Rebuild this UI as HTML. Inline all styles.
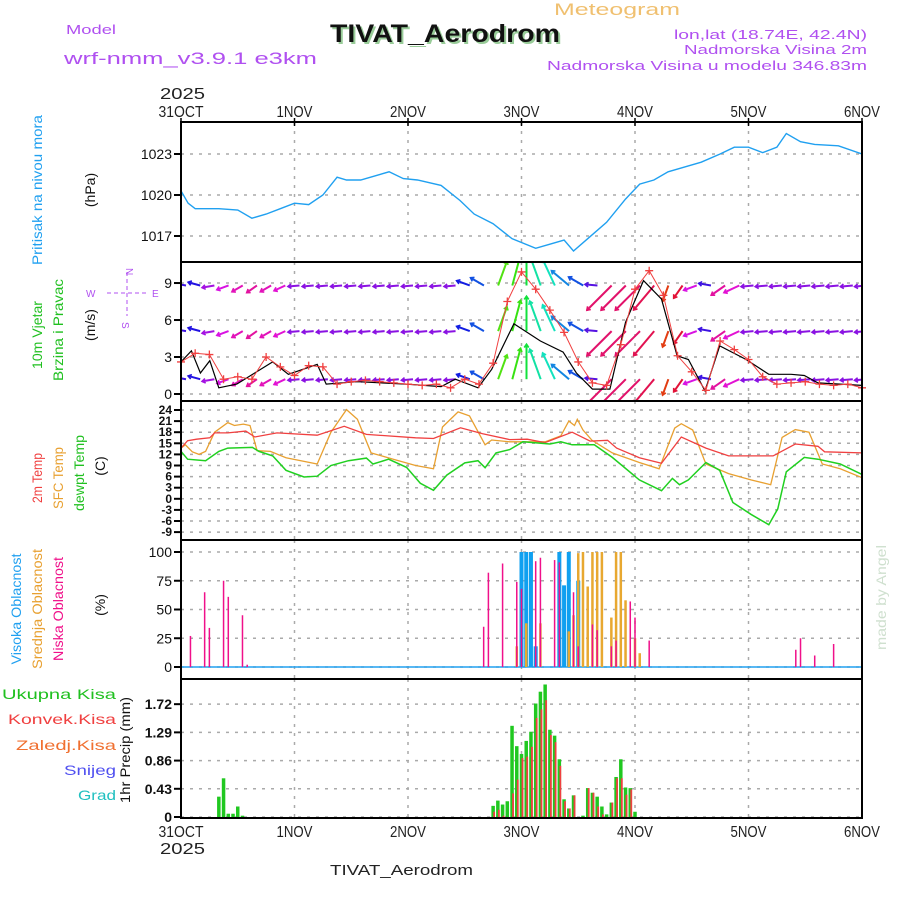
<!DOCTYPE html>
<html><head><meta charset="utf-8"><style>
html,body{margin:0;padding:0;background:#fff}
svg{display:block}
text{font-family:"Liberation Sans",sans-serif}
</style></head><body>
<svg id="c" width="900" height="900" viewBox="0 0 900 900" xmlns="http://www.w3.org/2000/svg">
<rect x="0" y="0" width="900" height="900" fill="#fff"/>
<g lengthAdjust="spacingAndGlyphs">
<text x="617" y="15" text-anchor="middle" font-size="17" fill="#f0c070" textLength="126" lengthAdjust="spacingAndGlyphs">Meteogram</text>
<text x="66" y="34" font-size="13" fill="#b050f0" textLength="50" lengthAdjust="spacingAndGlyphs">Model</text>
<text x="64" y="64" font-size="17" fill="#b050f0" textLength="253" lengthAdjust="spacingAndGlyphs">wrf-nmm_v3.9.1 e3km</text>
<text x="332" y="44" font-size="25" font-weight="bold" fill="#9c9" font-family="Liberation Serif, serif" textLength="230" lengthAdjust="spacingAndGlyphs">TIVAT_Aerodrom</text>
<text x="330" y="42" font-size="25" font-weight="bold" fill="#111" font-family="Liberation Serif, serif" textLength="230" lengthAdjust="spacingAndGlyphs">TIVAT_Aerodrom</text>
<text x="867" y="39" text-anchor="end" font-size="13" fill="#b050f0" textLength="193" lengthAdjust="spacingAndGlyphs">lon,lat (18.74E, 42.4N)</text>
<text x="867" y="54" text-anchor="end" font-size="13" fill="#b050f0" textLength="183" lengthAdjust="spacingAndGlyphs">Nadmorska Visina 2m</text>
<text x="867" y="70" text-anchor="end" font-size="13" fill="#b050f0" textLength="320" lengthAdjust="spacingAndGlyphs">Nadmorska Visina u modelu 346.83m</text>
<text x="160" y="99" font-size="16" fill="#222" textLength="45" lengthAdjust="spacingAndGlyphs">2025</text>
<text x="160" y="854" font-size="16" fill="#222" textLength="45" lengthAdjust="spacingAndGlyphs">2025</text>
<text x="330" y="875" font-size="15" fill="#222" font-family="Liberation Serif, serif" textLength="143" lengthAdjust="spacingAndGlyphs">TIVAT_Aerodrom</text>
<text transform="translate(886,650) rotate(-90)" font-size="14" fill="#cfe0cf" font-family="Liberation Serif, serif" textLength="105" lengthAdjust="spacingAndGlyphs">made by Angel</text>
</g>
<g font-size="14">
<text transform="translate(42,190) rotate(-90)" text-anchor="middle" fill="#20a0f0" textLength="150" lengthAdjust="spacingAndGlyphs">Pritisak na nivou mora</text>
<text transform="translate(95,190) rotate(-90)" text-anchor="middle" fill="#111">(hPa)</text>
<text transform="translate(42,335) rotate(-90)" text-anchor="middle" fill="#20c020" textLength="68" lengthAdjust="spacingAndGlyphs">10m Vjetar</text>
<text transform="translate(63,330) rotate(-90)" text-anchor="middle" fill="#20c020" textLength="102" lengthAdjust="spacingAndGlyphs">Brzina i Pravac</text>
<text transform="translate(95,325) rotate(-90)" text-anchor="middle" fill="#111">(m/s)</text>
<text transform="translate(42,478) rotate(-90)" text-anchor="middle" fill="#f04040" textLength="50" lengthAdjust="spacingAndGlyphs">2m Temp</text>
<text transform="translate(63,478) rotate(-90)" text-anchor="middle" fill="#e8a030" textLength="62" lengthAdjust="spacingAndGlyphs">SFC Temp</text>
<text transform="translate(84,473) rotate(-90)" text-anchor="middle" fill="#20c020" textLength="76" lengthAdjust="spacingAndGlyphs">dewpt Temp</text>
<text transform="translate(105,466) rotate(-90)" text-anchor="middle" fill="#111">(C)</text>
<text transform="translate(21,609) rotate(-90)" text-anchor="middle" fill="#20a0f0" textLength="111" lengthAdjust="spacingAndGlyphs">Visoka Oblacnost</text>
<text transform="translate(42,609) rotate(-90)" text-anchor="middle" fill="#e8a030" textLength="120" lengthAdjust="spacingAndGlyphs">Srednja Oblacnost</text>
<text transform="translate(63,609) rotate(-90)" text-anchor="middle" fill="#f0108a" textLength="104" lengthAdjust="spacingAndGlyphs">Niska Oblacnost</text>
<text transform="translate(105,605) rotate(-90)" text-anchor="middle" fill="#111">(%)</text>
<text transform="translate(130,750) rotate(-90)" text-anchor="middle" fill="#111" textLength="106" lengthAdjust="spacingAndGlyphs">1hr Precip (mm)</text>
<text x="116" y="699" text-anchor="end" fill="#20c020" textLength="114" lengthAdjust="spacingAndGlyphs">Ukupna Kisa</text>
<text x="116" y="724" text-anchor="end" fill="#f04040" textLength="108" lengthAdjust="spacingAndGlyphs">Konvek.Kisa</text>
<text x="116" y="750" text-anchor="end" fill="#f07030" textLength="100" lengthAdjust="spacingAndGlyphs">Zaledj.Kisa</text>
<text x="116" y="775" text-anchor="end" fill="#5050f0" textLength="52" lengthAdjust="spacingAndGlyphs">Snijeg</text>
<text x="116" y="800" text-anchor="end" fill="#20c0c0" textLength="38" lengthAdjust="spacingAndGlyphs">Grad</text>
</g>
<g stroke="#b050f0" fill="#b050f0" font-size="10">
<line x1="107" y1="293" x2="147" y2="293" stroke-dasharray="4,3"/>
<line x1="127" y1="272" x2="127" y2="316" stroke-dasharray="4,3"/>
<text x="86" y="297" stroke="none">W</text>
<text x="152" y="297" stroke="none">E</text>
<text transform="translate(126,268) rotate(90)" stroke="none">N</text>
<text transform="translate(122,322) rotate(90)" stroke="none">S</text>
</g>
<g id="plot"></g>
</svg>
<script>
// ---- data ----
const dayLabels = ["31OCT","1NOV","2NOV","3NOV","4NOV","5NOV","6NOV"];
const presHours = [0,1.5,3,8,12,15,18,21,24,27,30,33,35,38,44,47,50,55,59,62,66,70,75,78,81,83,86,90,94,97,100,103,107,110,114,117,120,123,126,128,131,134,139,144];
const presVals = [1020.3,1019.4,1019.0,1019.0,1018.9,1018.3,1018.6,1019.0,1019.4,1019.3,1020.0,1021.3,1021.1,1021.1,1021.7,1021.2,1021.1,1020.7,1019.6,1018.6,1017.9,1016.8,1016.1,1016.4,1016.7,1015.9,1016.8,1018.0,1019.7,1020.8,1021.1,1021.7,1022.1,1022.4,1023.0,1023.5,1023.5,1023.1,1023.5,1024.5,1023.9,1023.7,1023.6,1023.0];
const presTicks = [1017,1020,1023];
const windHours = [0,2.2,4.1,6.1,8,11.8,19.4,22.7,28.8,30.7,37.3,47.7,55,58,62.8,65.7,70.4,76,80.8,83.6,87,90.7,94,97.8,101.6,104.9,107.3,110.8,113.9,119.5,124.3,129,131.8,134.7,144];
const windVals = [2.6,3.5,1.7,2.7,0.5,0.8,2.6,1.6,2.4,0.8,1.0,0.8,0.6,1.2,0.5,2.0,5.7,4.3,3.4,1.7,0.4,0.4,5.8,9.2,7.7,3.1,2.8,0.25,3.9,2.8,1.6,1.6,1.5,0.9,0.7];
const gustVals = [2.6,3.3,3.2,1.2,1.4,1.2,3.0,2.2,1.5,2.3,2.2,0.8,1.0,1.1,1.0,0.9,0.8,0.7,0.8,0.5,1.2,0.8,2.5,7.5,9.9,8.5,6.8,5.0,2.6,0.9,0.7,4.0,8.5,10.0,8.0,3.1,1.8,0.3,4.3,3.6,2.8,1.4,0.8,0.9,1.0,0.8,0.7,0.8,0.5];
const windDir = [170,165,190,200,210,215,210,205,185,185,185,185,185,185,185,185,185,185,185,185,160,150,70,75,90,110,115,140,150,175,225,225,225,230,250,235,200,170,215,205,185,185,185,185,185,185,185,185,185];
const windArrowSpeed = [1.5,1.5,1.5,1.5,1.5,1.5,1.5,1.5,1.2,1.2,1.2,1.2,1.2,1.2,1.2,1.2,1.2,1.2,1.2,1.2,2,2.5,6,8,9,8,7,5,3,1.5,9,9,9,8,3,2.5,2,1.5,3,3,1.5,1.5,1.5,1.5,1.5,1.5,1.5,1.5,1.5];
const windRows = [8.8,5.1,1.2];
const windTicks = [0,3,6,9];
const t2Hours = [0,1.4,3.3,6.1,7.1,9.9,13.7,15.6,20.3,28.8,34.5,39.2,49.6,53.4,59.1,63.8,69.5,73.2,77,82.7,86.5,90.2,92.1,96.9,101.6,105.8,111,115.8,125.2,129.9,134.7,136.1,144];
const t2Vals = [13.7,15.7,16.1,16.5,17.8,17.8,18.3,16.7,17.8,17.2,19.6,17.4,16.5,16.3,19.2,17.6,16,16.1,15.2,18,15.6,15.8,13.7,11.1,9.6,16.7,13.7,11.6,11.6,14.8,14.2,12.7,12.4];
const sfcHours = [0,0.9,2.4,3.8,5.2,7.1,9.9,11.3,13.2,14.6,16.1,18.9,22.2,28.8,31.7,35,37.3,40.2,44.9,49.6,53.4,55.3,58.6,61,64.3,65.7,69.5,77,80.3,82,83.2,83.8,85,86.9,91.2,96.9,101.1,104.4,105.8,108.2,111,115.8,120.5,124.7,127.1,129.9,132.8,135.6,139.4,144];
const sfcVals = [13.7,14.6,12.7,12,12.8,18,20.6,19.8,20.2,19.8,13,12.8,11.1,9.4,18,24.1,21.5,12.4,10.7,9,8.1,19.4,23.5,22.4,14.6,15.9,15.4,15.4,17,21,19.8,21.5,18.6,15.8,12.4,9.8,8.1,19.1,20.3,18.6,9.4,6.8,5.1,3.8,16.6,18.7,18,9.4,8.1,5.7];
const dewHours = [0,1.4,5.2,8,9.9,15.1,16.5,19.4,22.2,26,28.8,31.7,35.4,39.2,40.6,43.9,47.7,50.6,53.4,56.2,60,62.8,64.3,66.6,69.5,72.3,78,80.3,82.7,87.4,91.2,96.9,101.6,103.9,105.4,107.3,111,113.9,116.7,120.5,124.3,126.2,128,131.8,134.7,139.4,144];
const dewVals = [12.8,10.7,10.3,12.8,13.7,13.9,12.8,11.6,7.7,5.9,6.1,9,10.3,11,9.4,10.7,8.5,4.2,2.3,6.4,9.7,10.3,8.4,12.4,13.3,15.4,14.8,15.4,14.6,14.6,11.2,5.1,2.2,5.5,3.8,5.1,9.8,7.7,-1,-4.2,-7,-2.7,7.3,11.2,10.7,9.4,6.6];
const tempTicks = [-9,-6,-3,0,3,6,9,12,15,18,21,24];
const lowHours = [2,5,6,9,10,13,14,64,65,68,71,72,75,76,79,80,83,84,87,88,91,92,95,96,99,130,131,134,138];
const lowVals = [27,65,34,75,61,45,2,35,82,90,74,68,92,95,93,91,65,18,37,32,18,23,57,43,23,15,25,10,20];
const highHours = [72,73,74,75,80,81,82,84];
const highVals = [100,100,100,18,100,71,100,75];
const midHours = [71,73,76,82,83,84,85,86,87,88,89,91,92,93,94,96,97];
const midVals = [18,38,38,31,45,99,100,70,100,100,100,43,100,100,58,25,12];
const cloudTicks = [0,25,50,75,100];
const rainHours = [8,9,10,11,12,13,66,67,68,69,70,71,72,73,74,75,76,77,78,79,80,81,82,83,85,86,87,88,89,90,91,92,93,94,95,96];
const totalRain = [0.31,0.59,0.05,0.05,0.16,0.02,0.17,0.25,0.19,0.24,1.39,1.08,0.96,1.16,1.30,1.73,1.91,2.02,1.33,1.24,0.88,0.27,0.13,0.33,0.02,0.44,0.37,0.31,0.16,0.04,0.22,0.61,0.88,0.45,0.44,0.08];
const convRain = [0,0,0,0,0,0,0.08,0.11,0.02,0,0.36,0.57,0.9,0.92,1.07,1.51,1.64,1.78,1.25,1.14,0.78,0.24,0.13,0.33,0,0.44,0.37,0.16,0.04,0,0.22,0.59,0.59,0.34,0.42,0];
const rainTicks = [0,0.43,0.86,1.29,1.72];

// ---- scales ----
const X0=181, X1=862, HMAX=144;
const X = h => X0 + h*(X1-X0)/HMAX;
const Yp = v => 195 - (v-1020)*13.67;
const Yw = v => 394 - v*12.33;
const Yt = v => 410 + (24-v)*3.7;
const Yc = v => 667 - v*1.15;
const Yr = v => 817 - v*65.6;
const panels = [[122,262],[262,401],[401,540],[540,679],[679,818]];
const NS="http://www.w3.org/2000/svg";
const plot=document.getElementById('plot');
function mk(tag, attrs, parent){
  const el=document.createElementNS(NS,tag);
  for(const k in attrs) el.setAttribute(k,attrs[k]);
  (parent||plot).appendChild(el);
  return el;
}
function clipFor(i){
  const cp=mk('clipPath',{id:'cp'+i});
  mk('rect',{x:X0,y:panels[i][0],width:X1-X0,height:panels[i][1]-panels[i][0]},cp);
}
panels.forEach((p,i)=>clipFor(i));

// grids
function grid(pi, ticks, Y, name){
  const g=mk('g',{});
  
  
  ticks.forEach(t=>{
    const y=Y(t);
    const l=mk('line',{x1:X0,x2:X1,y1:y,y2:y,stroke:'#aaa','stroke-width':1.5,'stroke-dasharray':'3,6'},g);
    
    
    const tk=mk('line',{x1:174,x2:181,y1:y,y2:y,stroke:'#000','stroke-width':2});
    
    
    const tx=mk('text',{x:172,y:y+(pi===2?4:5),'text-anchor':'end','font-size':pi===2?12:14,'font-weight':(pi===2||pi===4)?'bold':'normal',fill:'#111'});
    
    
    tx.textContent=String(t);
  });
  for(let d=1;d<6;d++){
    const x=X(d*24);
    const l=mk('line',{x1:x,x2:x,y1:panels[pi][0],y2:panels[pi][1],stroke:'#aaa','stroke-width':1.5,'stroke-dasharray':'3,6'},g);
    
    
  }
}
grid(0,presTicks,Yp,'pressure');
grid(1,windTicks,Yw,'wind');
grid(2,tempTicks,Yt,'temp');
grid(3,cloudTicks,Yc,'cloud');
grid(4,rainTicks,Yr,'precip');

function line(hours, vals, Y, color, pi, name, w){
  const d=hours.map((h,i)=>(i?'L':'M')+X(h).toFixed(1)+','+Y(vals[i]).toFixed(1)).join('');
  const p=mk('path',{d:d,fill:'none',stroke:color,'stroke-width':w||1.5,'clip-path':'url(#cp'+pi+')'});
  
  
}
line(presHours,presVals,Yp,'#20a0f0',0,'pressure-line',1.4);

// wind arrows
const hue = a => (1.5*a-3+360)%360;
windRows.forEach((r,ri)=>{
  const g=mk('g',{'clip-path':'url(#cp1)'});
  
  
  windDir.forEach((a,i)=>{
    const x=X(i*3)+5, y=Yw(r);
    const L=8+windArrowSpeed[i]*3;
    const rad=a*Math.PI/180;
    const x2=x+L*Math.cos(rad), y2=y-L*Math.sin(rad);
    const col='hsl('+hue(a)+',85%,48%)';
    const ln=mk('line',{x1:x,y1:y,x2:x2,y2:y2,stroke:col,'stroke-width':2},g);
    
    
    const hl=4, a1=rad+Math.PI-0.6, a2=rad+Math.PI+0.6;
    const hd=mk('path',{d:'M'+(x2+hl*Math.cos(a1))+','+(y2-hl*Math.sin(a1))+'L'+x2+','+y2+'L'+(x2+hl*Math.cos(a2))+','+(y2-hl*Math.sin(a2)),fill:'none',stroke:col,'stroke-width':1.6},g);
    
    
  });
});
line(windHours,windVals,Yw,'#000',1,'wind-speed-line',1.2);
line(gustVals.map((v,i)=>i*3),gustVals,Yw,'#f04040',1,'wind-gust-line',1);
gustVals.forEach((v,i)=>{
  const x=X(i*3), y=Yw(v);
  if(y<262) return;
  const p=mk('path',{d:'M'+(x-4)+','+y+'H'+(x+4)+'M'+x+','+(y-4)+'V'+(y+4),stroke:'#f04040','stroke-width':1.3});
  
  
});

// temps
line(sfcHours,sfcVals,Yt,'#e8a030',2,'sfc-temp-line',1.3);
line(t2Hours,t2Vals,Yt,'#f04040',2,'temp-2m-line',1.3);
line(dewHours,dewVals,Yt,'#20d020',2,'dewpoint-line',1.5);

// clouds
const base=mk('line',{x1:X0,x2:X1,y1:Yc(0),y2:Yc(0),stroke:'#20a0f0','stroke-width':1.5});


function bars(hours, vals, Y, color, w, off, name){
  hours.forEach((h,i)=>{
    const x=X(h)+off, y0=Y(0), y=Y(vals[i]);
    const r=mk('rect',{x:x-w/2,y:y,width:w,height:Math.max(0,y0-y),fill:color});
    
    
  });
}
bars(highHours,highVals,Yc,'#10a0f0',4,0,'high-cloud-bar');
bars(midHours,midVals,Yc,'#e8a830',2.5,0,'mid-cloud-bar');
bars(lowHours,lowVals,Yc,'#f0108a',1.5,0,'low-cloud-bar');

// precip
bars(rainHours,totalRain,Yr,'#20c820',3.5,0,'total-precip-bar');
bars(rainHours,convRain,Yr,'#f04040',1.8,1,'convective-precip-bar');

// panel borders
panels.forEach((p,i)=>{
  const r=mk('rect',{x:X0,y:p[0],width:X1-X0,height:p[1]-p[0],fill:'none',stroke:'#000','stroke-width':2});
  
  
});
// date labels
dayLabels.forEach((d,i)=>{
  const x=X(i*24);
  [[117,'date-label-top'],[837,'date-label-bottom']].forEach(([y,n])=>{
    const t=mk('text',{x:x,y:y,'text-anchor':'middle','font-size':16,fill:'#222',textLength:d.length*9,lengthAdjust:'spacingAndGlyphs'});
    
    
    t.textContent=d;
  });
  const tk=mk('line',{x1:x,x2:x,y1:118,y2:126,stroke:'#000','stroke-width':1.5});
  
  
});
</script>
</body></html>
